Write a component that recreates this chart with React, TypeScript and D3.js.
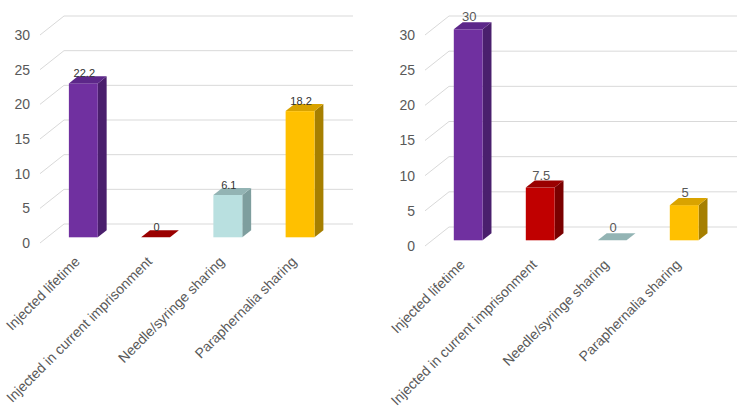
import React from 'react';
import * as d3 from 'd3';

// Two 3D-style column charts side by side: share of respondents per injecting behaviour.

const categories = [
  'Injected lifetime',
  'Injected in current imprisonment',
  'Needle/syringe sharing',
  'Paraphernalia sharing',
];
const leftValues = [22.2, 0, 6.1, 18.2];
const rightValues = [30, 7.5, 0, 5];
const yTicks = [0, 5, 10, 15, 20, 25, 30];

// front / top / side shades per category
const barColors = [
  { front: '#7030A0', top: '#5C2789', side: '#4A1F6D' },
  { front: '#C00000', top: '#9A0000', side: '#7A0000' },
  { front: '#B9E0E0', top: '#93B4B4', side: '#7E9E9E' },
  { front: '#FFC000', top: '#D9A300', side: '#A67F00' },
];

const DEPTH = { x: 24, y: -19 }; // floor depth in screen space
const FRONT = 0.3; // bar front face, as fraction of the depth
const BACK = 0.67;

type PanelProps = {
  values: number[];
  x0: number;
  x1: number;
  yZero: number;
  yTop: number;
  labelSize: number;
  labelColor: string;
  labelGap: number;
};

function Panel({ values, x0, x1, yZero, yTop, labelSize, labelColor, labelGap }: PanelProps) {
  const x = d3.scaleBand<string>().domain(categories).range([x0, x1]).paddingInner(0.6).paddingOuter(0.3);
  const y = d3.scaleLinear().domain([0, 30]).range([yZero, yTop]);

  const fx = DEPTH.x * FRONT;
  const fy = DEPTH.y * FRONT;
  const dx = DEPTH.x * (BACK - FRONT);
  const dy = DEPTH.y * (BACK - FRONT);
  const bw = x.bandwidth();

  return (
    <g>
      {yTicks.map((t) => (
        <g key={t}>
          <line x1={x0} y1={y(t)} x2={x0 + DEPTH.x} y2={y(t) + DEPTH.y} stroke="#D9D9D9" />
          <line x1={x0 + DEPTH.x} y1={y(t) + DEPTH.y} x2={x1 + DEPTH.x} y2={y(t) + DEPTH.y} stroke="#D9D9D9" />
          <text x={x0 - 10} y={y(t)} dy="0.35em" textAnchor="end" fontSize={14} fill="#595959">
            {t}
          </text>
        </g>
      ))}
      {categories.map((c, i) => {
        const v = values[i];
        const col = barColors[i];
        const bx = (x(c) ?? 0) + fx;
        const top = y(v) + fy;
        const bottom = y(0) + fy;
        const cx = bx + bw / 2;
        const topFace = `${bx},${top} ${bx + bw},${top} ${bx + bw + dx},${top + dy} ${bx + dx},${top + dy}`;
        const sideFace = `${bx + bw},${top} ${bx + bw + dx},${top + dy} ${bx + bw + dx},${bottom + dy} ${bx + bw},${bottom}`;
        return (
          <g key={c}>
            <polygon points={sideFace} fill={col.side} />
            <rect x={bx} y={top} width={bw} height={bottom - top} fill={col.front} />
            <polygon points={topFace} fill={col.top} />
            <text x={cx + 1} y={top - labelGap} textAnchor="middle" fontSize={labelSize} fill={labelColor}>
              {v}
            </text>
            <text
              transform={`translate(${cx - 6},${yZero + 16}) rotate(-45)`}
              dy="0.35em"
              textAnchor="end"
              fontSize={14}
              fill="#595959"
            >
              {c}
            </text>
          </g>
        );
      })}
    </g>
  );
}

export default function App() {
  return (
    <svg
      width={756}
      height={416}
      style={{ position: 'absolute', left: 0, top: 0, background: '#fff', fontFamily: 'Liberation Sans, Arial, sans-serif' }}
    >
      <Panel values={leftValues} x0={40} x1={329} yZero={243} yTop={35} labelSize={11} labelColor="#333333" labelGap={6} />
      <Panel values={rightValues} x0={425} x1={713} yZero={246} yTop={35} labelSize={13} labelColor="#595959" labelGap={8} />
    </svg>
  );
}
